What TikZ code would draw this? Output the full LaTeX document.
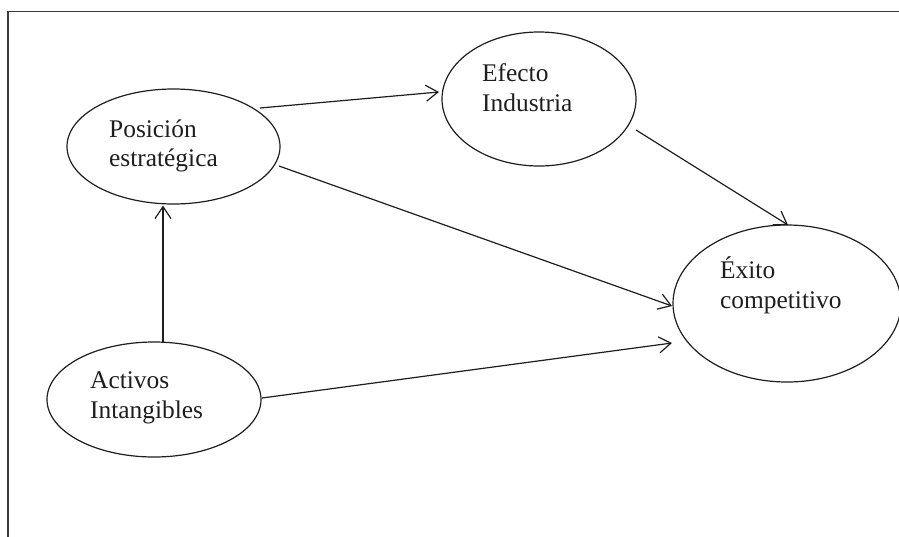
\documentclass[tikz,border=0pt]{standalone}
\usepackage{fontspec}
\setmainfont{Liberation Serif}
\usetikzlibrary{arrows.meta,calc,shapes.geometric}
\definecolor{ink}{HTML}{1E1E1E}
\definecolor{framec}{HTML}{3A3A3A}
\tikzset{
  oval/.style={ellipse, draw=ink, line width=1.2pt, inner sep=0pt},
  lbl/.style={text=ink, font=\fontsize{25.4}{29.5}\selectfont, align=left, inner sep=0pt, anchor=base west},
  conn/.style={draw=ink, line width=1.2pt, -{Straight Barb[length=12pt,width=16pt,line width=1.2pt]}}
}
\begin{document}
\begin{tikzpicture}[x=1pt,y=-1pt]
\useasboundingbox (0,0) rectangle (899,536);
\clip (0,0) rectangle (899,536);
\fill[white] (0,0) rectangle (899,536);
\draw[framec, line width=1.6pt] (8,11.5) rectangle (910,550);
% ellipses
\node[oval, minimum width=213pt, minimum height=115pt] (pos) at (173.5,146.5) {};
\node[oval, minimum width=194pt, minimum height=134pt] (ef) at (539,99) {};
\node[oval, minimum width=228pt, minimum height=157pt] (ex) at (787,303.5) {};
\node[oval, minimum width=214pt, minimum height=115pt] (act) at (154,399.5) {};
% labels (anchor = baseline of the last line)
\node[lbl] (posT) at (109,166.5) {Posición\\estratégica};
\node[lbl] (efT) at (482,111) {Efecto\\Industria};
\node[lbl] (exT) at (720,308) {Éxito\\competitivo};
\node[lbl] (actT) at (90,418) {Activos\\Intangibles};
% connectors
\draw[conn] ($(pos.center)+(86.5,-38.5)$) -- ($(ef.center)+(-100,-7)$);
\draw[conn] ($(pos.center)+(105.5,19.5)$) -- ($(ex.center)+(-115,2.5)$);
\draw[conn] ($(ef.center)+(97,31)$) -- ($(ex.center)+(1,-78.5)$);
\draw[conn] ($(act.center)+(9,-57.5)$) -- ($(pos.center)+(-10.5,59)$);
\draw[conn] ($(act.center)+(108,-1.5)$) -- ($(ex.center)+(-115,39.5)$);
\end{tikzpicture}
\end{document}
